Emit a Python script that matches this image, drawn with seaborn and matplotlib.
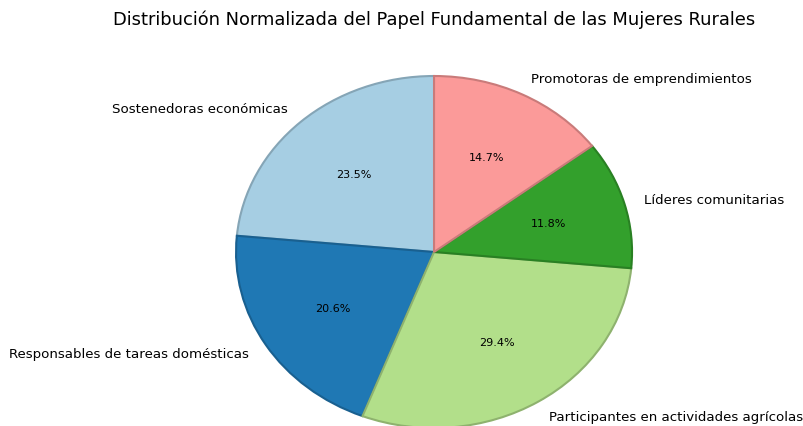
import matplotlib
matplotlib.use("Agg")
import matplotlib.pyplot as plt
import seaborn as sns
import numpy as np

# Data
roles = ['Sostenedoras económicas', 'Responsables de tareas domésticas',
         'Participantes en actividades agrícolas', 'Líderes comunitarias',
         'Promotoras de emprendimientos']
counts = [8, 7, 10, 4, 5]
title = 'Distribución Normalizada del Papel Fundamental de las Mujeres Rurales'

sns.set_theme(style="white")
plt.rcParams['font.family'] = ['DejaVu Sans']
plt.rcParams['text.color'] = 'black'

colors = sns.color_palette("Paired", len(counts))
edges = [tuple(np.array(c) * 0.8) for c in colors]

fig = plt.figure(figsize=(8.04, 4.27), dpi=100)
# pie is stretched horizontally in the reference, so place the axes by hand
ax = fig.add_axes([0.232, -0.1077, 0.6157, 1.0304])

wedges, texts, autotexts = ax.pie(counts, labels=roles, colors=colors,
                                  autopct='%1.1f%%', startangle=90,
                                  wedgeprops={'linewidth': 1.5},
                                  textprops={'fontsize': 9.6, 'color': 'black'})
for w, ec in zip(wedges, edges):
    w.set_edgecolor(ec)
for t in autotexts:
    t.set_fontsize(8)

ax.set_aspect('auto')
ax.set_title(title, fontsize=12.9, color='black')

fig.savefig('out.png', dpi=100)
